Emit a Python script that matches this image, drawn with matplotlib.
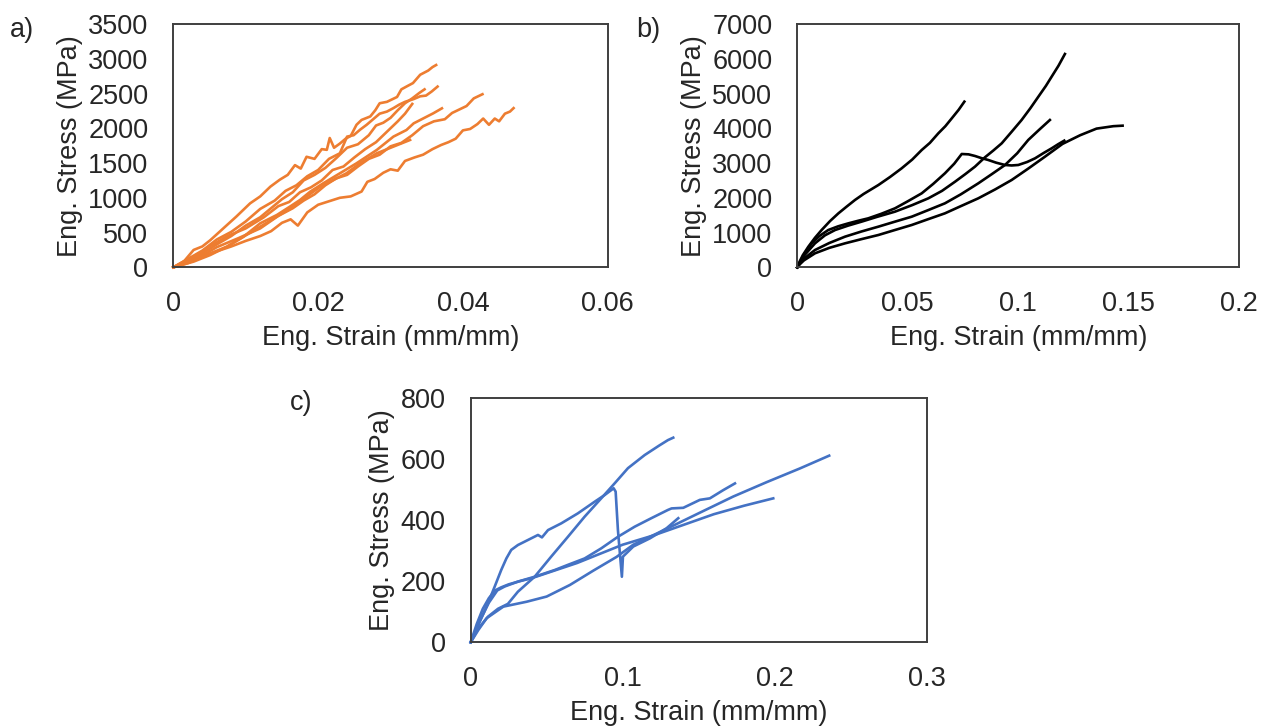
import matplotlib
matplotlib.use("Agg")
import matplotlib.pyplot as plt

plt.rcParams['font.family'] = ['Liberation Sans', 'DejaVu Sans']

# a) orange curves
a1_x = [0, .0015, .0028, .004, .0051, .0069, .0087, .0106, .012, .0134, .0147, .0158, .0168, .0176, .0184,
        .0195, .0205, .0212, .0216, .0222, .023, .0238, .0245, .0253, .026, .0272, .0279, .0285, .0295,
        .0309, .0315, .0322, .0331, .0341, .0352, .0358, .0363]
a1_y = [0, 90, 250, 300, 390, 560, 730, 920, 1020, 1160, 1260, 1330, 1470, 1420, 1590,
        1560, 1700, 1690, 1860, 1720, 1780, 1850, 1890, 2050, 2120, 2170, 2260, 2360, 2380,
        2450, 2560, 2600, 2650, 2770, 2830, 2880, 2910]
a2_x = [0, .002, .004, .006, .008, .010, .012, .014, .0155, .017, .0185, .020, .0215, .023, .024, .0249,
        .0258, .0267, .0276, .0285, .0295, .0304, .0312, .032, .0332, .0341, .0349, .0357, .0365]
a2_y = [0, 120, 240, 400, 510, 660, 840, 960, 1100, 1180, 1310, 1400, 1560, 1640, 1880, 1900,
        1980, 2050, 2130, 2210, 2240, 2290, 2340, 2380, 2420, 2460, 2470, 2530, 2600]
a3_x = [0, .002, .004, .006, .008, .010, .012, .0135, .015, .0165, .018, .0195, .021, .0225, .024,
        .0255, .027, .028, .029, .030, .031, .032, .033, .034, .0347]
a3_y = [0, 80, 200, 330, 450, 600, 720, 850, 980, 1080, 1250, 1330, 1430, 1570, 1720,
        1770, 1900, 2040, 2080, 2150, 2260, 2360, 2430, 2510, 2560]
a4_x = [0, .003, .006, .009, .012, .0145, .0165, .018, .0195, .021, .0225, .024, .0255, .027, .0285,
        .030, .0315, .033, .0345, .036, .0375, .0385, .0395, .0405, .0415, .0427]
a4_y = [0, 110, 290, 420, 560, 740, 850, 960, 1050, 1180, 1280, 1330, 1450, 1560, 1620,
        1740, 1790, 1900, 2030, 2100, 2130, 2220, 2270, 2320, 2430, 2490]
a5_x = [0, .0028, .0051, .0074, .0097, .012, .0143, .0161, .0175, .0189, .0207, .023, .0253, .0267,
        .0281, .0304, .0322, .0332, .035, .0359, .0371]
a5_y = [0, 105, 201, 297, 441, 633, 753, 873, 969, 1088, 1208, 1352, 1496, 1592,
        1688, 1880, 1975, 2071, 2167, 2215, 2287]
a6_x = [0, .002, .004, .006, .008, .010, .012, .0135, .015, .0162, .0172, .0185, .020, .0215, .023,
        .0245, .026, .0268, .0278, .029, .030, .031, .032, .0333, .0345, .0358, .037, .038, .039,
        .040, .041, .042, .0428, .0436, .0444, .045, .0458, .0465, .047]
a6_y = [0, 60, 150, 230, 300, 380, 450, 520, 640, 690, 600, 790, 900, 950, 1000,
        1020, 1090, 1230, 1270, 1360, 1410, 1390, 1530, 1580, 1620, 1700, 1760, 1800, 1850,
        1970, 1990, 2060, 2140, 2050, 2140, 2100, 2210, 2240, 2290]
a7_x = [0, .0028, .0051, .0074, .0097, .012, .0143, .0166, .0184, .0203, .0221, .0239, .0258, .0281,
        .0304, .0327]
a7_y = [0, 82, 177, 297, 441, 585, 729, 873, 1017, 1160, 1256, 1352, 1496, 1640,
        1736, 1832]
a8_x = [0, .0025, .005, .0075, .010, .0125, .0145, .016, .0175, .019, .0205, .022, .0235, .025, .0265,
        .028, .029, .030, .031, .032, .033]
a8_y = [0, 130, 300, 450, 560, 720, 880, 940, 1080, 1150, 1250, 1400, 1450, 1580, 1700,
        1800, 1900, 2000, 2100, 2210, 2350]

# b) black curves
b1_x = [0, .001, .0025, .005, .008, .011, .0148, .0186, .0223, .0261, .030, .0367, .042, .0472, .052,
        .0563, .060, .0638, .067, .0699, .073, .0756]
b1_y = [0, 160, 350, 594, 850, 1073, 1330, 1553, 1745, 1937, 2110, 2368, 2600, 2847, 3100,
        3375, 3580, 3854, 4060, 4286, 4530, 4766]
b2_x = [0, .001, .003, .0065, .010, .014, .0185, .0231, .0276, .0321, .038, .0442, .050, .0563, .0615,
        .0668, .071, .0744, .0775, .0804, .0834, .0864, .090, .094, .097, .100, .104, .1076, .1115,
        .1151, .118, .1208]
b2_y = [0, 120, 360, 690, 900, 1073, 1180, 1265, 1340, 1409, 1540, 1697, 1900, 2129, 2400,
        2704, 2980, 3260, 3250, 3203, 3140, 3088, 3010, 2944, 2930, 2944, 3030, 3136, 3290,
        3423, 3540, 3644]
b3_x = [0, .001, .003, .008, .0125, .0171, .023, .0291, .036, .0442, .052, .0593, .0655, .0714, .076,
        .0804, .0849, .0887, .0925, .097, .1015, .1055, .1091, .1125, .1151, .1182, .1211]
b3_y = [0, 110, 330, 690, 920, 1073, 1200, 1314, 1450, 1601, 1790, 1985, 2200, 2464, 2680,
        2896, 3164, 3360, 3567, 3900, 4238, 4580, 4910, 5220, 5485, 5800, 6137]
b4_x = [0, .001, .003, .008, .0145, .0216, .029, .0367, .044, .0518, .059, .0668, .074, .0819, .088,
        .094, .0995, .1045, .1095, .1143]
b4_y = [0, 90, 250, 498, 700, 882, 1030, 1170, 1310, 1457, 1640, 1841, 2100, 2416, 2680,
        2944, 3280, 3663, 3960, 4238]
b5_x = [0, .001, .003, .008, .0145, .0216, .029, .0367, .044, .0518, .059, .0668, .074, .0819, .0895,
        .097, .1045, .1121, .120, .128, .1354, .143, .1472]
b5_y = [0, 80, 200, 403, 560, 690, 810, 930, 1070, 1218, 1380, 1553, 1760, 1985, 2240,
        2512, 2840, 3184, 3550, 3800, 3990, 4060, 4075]

# c) blue curves
c1_x = [0, .004, .0114, .016, .0201, .0235, .0267, .0311, .0355, .0399, .0443, .0469, .0509, .0596,
        .0706, .0816, .0882, .0941, .0954, .0969, .0995, .1002, .1035, .107, .118, .1289, .1366]
c1_y = [0, 45, 128, 185, 237, 275, 303, 319, 330, 341, 352, 344, 368, 390,
        423, 461, 483, 505, 494, 368, 215, 281, 297, 314, 341, 374, 407]
c2_x = [0, .005, .0114, .018, .0245, .0311, .0421, .053, .064, .075, .0859, .0947, .1035, .1145,
        .124, .1298, .1333]
c2_y = [0, 45, 84, 110, 126, 166, 215, 281, 346, 412, 472, 521, 571, 614,
        645, 663, 671]
c3_x = [0, .006, .012, .0175, .0224, .0311, .0421, .0553, .064, .075, .0859, .0969, .1079, .1189,
        .1298, .1322, .1399, .1508, .1574, .1662, .1739]
c3_y = [0, 70, 130, 170, 183, 199, 215, 237, 254, 275, 308, 346, 379, 407,
        434, 439, 441, 467, 472, 499, 521]
c4_x = [0, .005, .0105, .0215, .0368, .050, .0653, .0807, .096, .107, .1289, .1508, .1728, .1947,
        .2166, .2359]
c4_y = [0, 40, 79, 117, 133, 150, 188, 235, 280, 320, 372, 425, 478, 525,
        570, 612]
c5_x = [0, .004, .008, .012, .016, .020, .025, .032, .040, .055, .070, .085, .100, .120, .140, .160,
        .180, .1991]
c5_y = [0, 60, 110, 145, 170, 180, 190, 200, 210, 235, 260, 290, 320, 350, 385, 420,
        448, 472]

a_xticks = [0, 0.02, 0.04, 0.06]
a_xlabels = ['0', '0.02', '0.04', '0.06']
a_yticks = [0, 500, 1000, 1500, 2000, 2500, 3000, 3500]
b_xticks = [0, 0.05, 0.1, 0.15, 0.2]
b_xlabels = ['0', '0.05', '0.1', '0.15', '0.2']
b_yticks = [0, 1000, 2000, 3000, 4000, 5000, 6000, 7000]
c_xticks = [0, 0.1, 0.2, 0.3]
c_xlabels = ['0', '0.1', '0.2', '0.3']
c_yticks = [0, 200, 400, 600, 800]

FS = 19.5


def style_axes(ax, xticks, xlabels, yticks):
    ax.set_xlim(xticks[0], xticks[-1])
    ax.set_ylim(yticks[0], yticks[-1])
    ax.set_xticks(xticks)
    ax.set_xticklabels(xlabels)
    ax.set_yticks(yticks)
    ax.set_yticklabels([str(v) for v in yticks])
    ax.tick_params(length=0, labelsize=FS, colors='#262626')
    ax.tick_params(axis='x', pad=17)
    ax.tick_params(axis='y', pad=18)
    for s in ax.spines.values():
        s.set_color('#3f3f3f')
        s.set_linewidth(1.4)
    ax.set_xlabel('Eng. Strain (mm/mm)', fontsize=FS, color='#262626', labelpad=6)
    ax.set_ylabel('Eng. Stress (MPa)', fontsize=FS, color='#262626', labelpad=4)


fig = plt.figure(figsize=(12.7, 7.27), dpi=100)

ax_a = fig.add_axes([0.1365, 0.6323, 0.342, 0.3347])
for xs, ys in [(a1_x, a1_y), (a2_x, a2_y), (a3_x, a3_y), (a4_x, a4_y),
               (a5_x, a5_y), (a6_x, a6_y), (a7_x, a7_y), (a8_x, a8_y)]:
    ax_a.plot(xs, ys, color='#ED7D31', lw=1.9, clip_on=False)
style_axes(ax_a, a_xticks, a_xlabels, a_yticks)

ax_b = fig.add_axes([0.6278, 0.6323, 0.348, 0.3347])
for xs, ys in [(b1_x, b1_y), (b2_x, b2_y), (b3_x, b3_y), (b4_x, b4_y), (b5_x, b5_y)]:
    ax_b.plot(xs, ys, color='black', lw=1.9, clip_on=False)
style_axes(ax_b, b_xticks, b_xlabels, b_yticks)

ax_c = fig.add_axes([0.3706, 0.1165, 0.359, 0.3356])
for xs, ys in [(c1_x, c1_y), (c2_x, c2_y), (c3_x, c3_y), (c4_x, c4_y), (c5_x, c5_y)]:
    ax_c.plot(xs, ys, color='#4472C4', lw=1.9, clip_on=False)
style_axes(ax_c, c_xticks, c_xlabels, c_yticks)

fig.text(0.008, 0.9587, 'a)', fontsize=FS, va='center', color='#262626')
fig.text(0.5008, 0.9587, 'b)', fontsize=FS, va='center', color='#262626')
fig.text(0.228, 0.4457, 'c)', fontsize=FS, va='center', color='#262626')

fig.savefig('out.png', dpi=100)
